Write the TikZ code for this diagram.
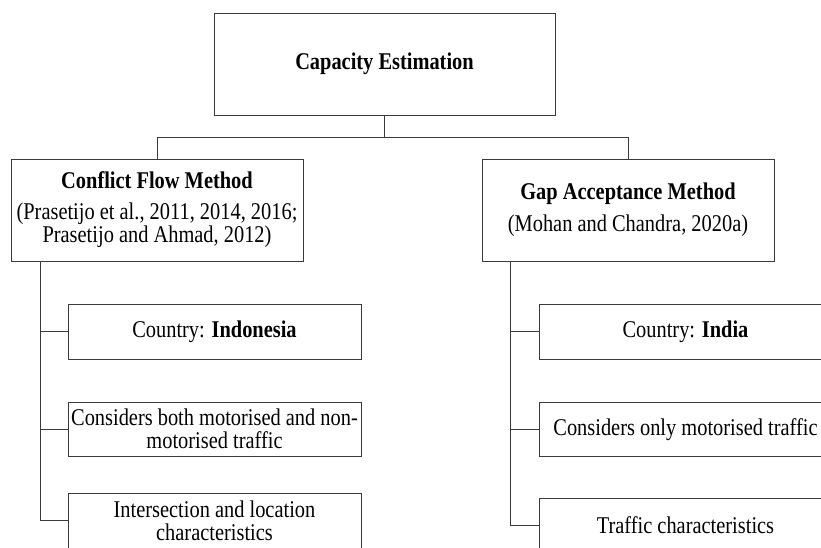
\documentclass[tikz,border=0pt]{standalone}
\usepackage{fontspec}
\setmainfont[FakeStretch=0.85]{Liberation Serif}
\definecolor{lc}{HTML}{3A3A3A}
\tikzset{
  box/.style={draw=lc, line width=0.9pt, inner sep=0pt, align=center, text=black,
              font=\fontsize{24}{23}\selectfont},
  conn/.style={draw=lc, line width=0.9pt},
}
\begin{document}
\begin{tikzpicture}[x=1pt, y=-1pt]
  \useasboundingbox (0,0) rectangle (821,547);
  \clip (0,0) rectangle (821,547);
  % top
  \node[box, minimum width=341pt, minimum height=102pt] (top) at (384.5,64) {\textbf{Capacity Estimation}};
  % methods
  \node[box, minimum width=292pt, minimum height=102pt] (lbox) at (157,210)
    {\textbf{Conflict Flow Method}\\[8pt](Prasetijo et al., 2011, 2014, 2016;\\Prasetijo and Ahmad, 2012)};
  \node[box, minimum width=292pt, minimum height=102pt] (rbox) at (628,210)
    {\textbf{Gap Acceptance Method}\\[9pt](Mohan and Chandra, 2020a)};
  % left details
  \node[box, minimum width=293pt, minimum height=55pt] (l1) at (214.5,331.5) {Country: \textbf{Indonesia}};
  \node[box, minimum width=293pt, minimum height=54pt] (l2) at (214.5,429) {Considers both motorised and non-\\motorised traffic};
  \node[box, minimum width=293pt, minimum height=55pt] (l3) at (214.5,520.5) {Intersection and location\\characteristics};
  % right details
  \node[box, minimum width=293pt, minimum height=55pt] (r1) at (685.5,331.5) {Country: \textbf{India}};
  \node[box, minimum width=293pt, minimum height=54pt] (r2) at (685.5,429.5) {Considers only motorised traffic};
  \node[box, minimum width=293pt, minimum height=55pt] (r3) at (685.5,525.5) {Traffic characteristics};
  % connectors
  \draw[conn] (top.south) -- ++(0,22) coordinate (j);
  \draw[conn] (lbox.north) |- (j) -| (rbox.north);
  \draw[conn] ([xshift=30pt]lbox.south west) |- (l1.west);
  \draw[conn] ([xshift=30pt]lbox.south west) |- (l2.west);
  \draw[conn] ([xshift=30pt]lbox.south west) |- (l3.west);
  \draw[conn] ([xshift=29pt]rbox.south west) |- (r1.west);
  \draw[conn] ([xshift=29pt]rbox.south west) |- (r2.west);
  \draw[conn] ([xshift=29pt]rbox.south west) |- (r3.west);
\end{tikzpicture}
\end{document}
